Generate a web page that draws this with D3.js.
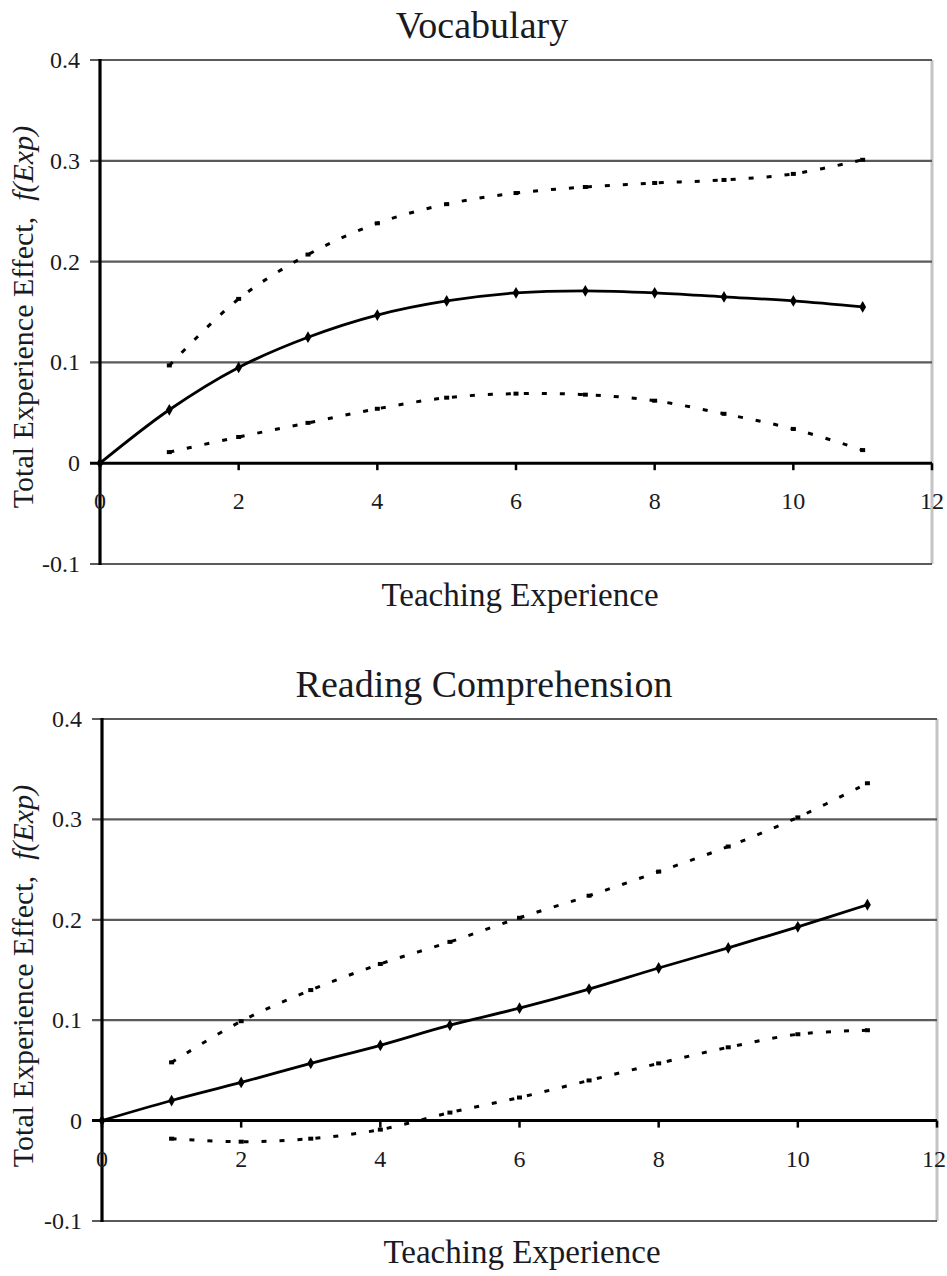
<!DOCTYPE html>
<html><head><meta charset="utf-8">
<script src="https://cdn.jsdelivr.net/npm/d3@7"></script>
<style>body{margin:0;background:#fff}svg{display:block}</style>
</head><body>
<svg id="c" width="947" height="1276"></svg>
<script>
// ---- data ----
const years = [0,1,2,3,4,5,6,7,8,9,10,11];
const bandYears = [1,2,3,4,5,6,7,8,9,10,11];
const vocabEffect = [0, 0.053, 0.095, 0.125, 0.147, 0.161, 0.169, 0.171, 0.169, 0.165, 0.161, 0.155];
const vocabUpper  = [0.097, 0.163, 0.207, 0.238, 0.257, 0.268, 0.274, 0.278, 0.281, 0.287, 0.301];
const vocabLower  = [0.011, 0.026, 0.040, 0.054, 0.065, 0.069, 0.068, 0.062, 0.049, 0.034, 0.013];
const readEffect  = [0, 0.020, 0.038, 0.057, 0.075, 0.095, 0.112, 0.131, 0.152, 0.172, 0.193, 0.215];
const readUpper   = [0.058, 0.099, 0.130, 0.156, 0.178, 0.202, 0.224, 0.248, 0.273, 0.302, 0.336];
const readLower   = [-0.018, -0.021, -0.018, -0.009, 0.008, 0.023, 0.040, 0.057, 0.073, 0.086, 0.090];
const yTicks = [-0.1, 0, 0.1, 0.2, 0.3, 0.4];
const yTickLabels = ["-0.1","0","0.1","0.2","0.3","0.4"];
const xTicks = [0, 2, 4, 6, 8, 10, 12];
const panelTitles = ["Vocabulary", "Reading Comprehension"];
const xAxisTitle = "Teaching Experience";
const yAxisTitle = "Total Experience Effect,";
const yAxisTitleItalic = "f(Exp)";

const svg = d3.select("#c");
const FONT = "'Liberation Serif','Times New Roman',serif";
const TXT = "#1a1a22";
const W = 947;

function panel(cfg) {
  const g = svg.append("g");
  const x = d3.scaleLinear().domain([0, 12]).range([cfg.left, cfg.right]);
  const y = d3.scaleLinear().domain([-0.1, 0.4]).range([cfg.bottom, cfg.top]);

  g.append("text").attr("x", cfg.titleX).attr("y", cfg.titleY)
    .attr("text-anchor", "middle").attr("font-family", FONT).attr("font-size", 38)
    .attr("fill", TXT).text(cfg.title);

  g.append("line").attr("x1", x(12)).attr("x2", x(12))
    .attr("y1", y(0.4)).attr("y2", y(-0.1))
    .attr("stroke", "#c4c4c4").attr("stroke-width", 3);

  g.selectAll("line.grid").data(yTicks.filter(d => d !== 0)).enter().append("line")
    .attr("x1", x(0) - 10).attr("x2", x(12))
    .attr("y1", d => y(d)).attr("y2", d => y(d))
    .attr("stroke", "#5a5a5a").attr("stroke-width", 2.2);

  g.append("line").attr("x1", x(0) - 10).attr("x2", x(12))
    .attr("y1", y(0)).attr("y2", y(0))
    .attr("stroke", "#000").attr("stroke-width", 3);

  g.selectAll("line.xt").data(xTicks).enter().append("line")
    .attr("x1", d => x(d)).attr("x2", d => x(d))
    .attr("y1", y(0)).attr("y2", y(0) + 7)
    .attr("stroke", "#000").attr("stroke-width", 2.5);

  g.append("line").attr("x1", x(0)).attr("x2", x(0))
    .attr("y1", y(0.4) - 1).attr("y2", y(-0.1) + 1)
    .attr("stroke", "#000").attr("stroke-width", 3.2);

  g.selectAll("text.yl").data(yTicks).enter().append("text")
    .attr("x", x(0) - 20).attr("y", d => y(d) + 8)
    .attr("text-anchor", "end").attr("font-family", FONT).attr("font-size", 24)
    .attr("fill", TXT).text((d, i) => yTickLabels[i]);

  g.selectAll("text.xl").data(xTicks).enter().append("text")
    .attr("x", d => Math.min(x(d), W - 13)).attr("y", y(0) + 46)
    .attr("text-anchor", "middle").attr("font-family", FONT).attr("font-size", 24)
    .attr("fill", TXT).text(d => d);

  g.append("text").attr("x", cfg.xTitleX).attr("y", y(-0.1) + 42)
    .attr("text-anchor", "middle").attr("font-family", FONT).attr("font-size", 33)
    .attr("fill", TXT).text(xAxisTitle);

  const yt = g.append("text")
    .attr("transform", `translate(33,${cfg.yTitleY}) rotate(-90)`)
    .attr("text-anchor", "middle").attr("font-family", FONT).attr("font-size", 30)
    .attr("fill", TXT);
  yt.append("tspan").text(yAxisTitle);
  yt.append("tspan").attr("dx", 16).attr("font-style", "italic").text(yAxisTitleItalic);

  const line = d3.line().x(d => x(d[0])).y(d => y(d[1])).curve(d3.curveCatmullRom.alpha(0.5));

  [cfg.upper, cfg.lower].forEach(vals => {
    const pts = bandYears.map((yr, i) => [yr, vals[i]]);
    g.append("path").attr("d", line(pts)).attr("fill", "none")
      .attr("stroke", "#000").attr("stroke-width", 3)
      .attr("stroke-dasharray", "5,13");
    g.selectAll(null).data(pts).enter().append("rect")
      .attr("x", d => x(d[0]) - 2.5).attr("y", d => y(d[1]) - 2)
      .attr("width", 5).attr("height", 4).attr("fill", "#000");
  });

  const mpts = years.map((yr, i) => [yr, cfg.effect[i]]);
  g.append("path").attr("d", line(mpts)).attr("fill", "none")
    .attr("stroke", "#000").attr("stroke-width", 2.8);
  g.selectAll(null).data(mpts).enter().append("path")
    .attr("d", d3.symbol().type(d3.symbolDiamond).size(40))
    .attr("transform", d => `translate(${x(d[0])},${y(d[1])})`)
    .attr("fill", "#000");
}

panel({ left: 100, right: 932, top: 60, bottom: 564,
  title: panelTitles[0], titleX: 482, titleY: 38, xTitleX: 520, yTitleY: 317,
  effect: vocabEffect, upper: vocabUpper, lower: vocabLower });
panel({ left: 102, right: 937, top: 719, bottom: 1221,
  title: panelTitles[1], titleX: 484, titleY: 697, xTitleX: 522, yTitleY: 976,
  effect: readEffect, upper: readUpper, lower: readLower });
</script>
</body></html>
